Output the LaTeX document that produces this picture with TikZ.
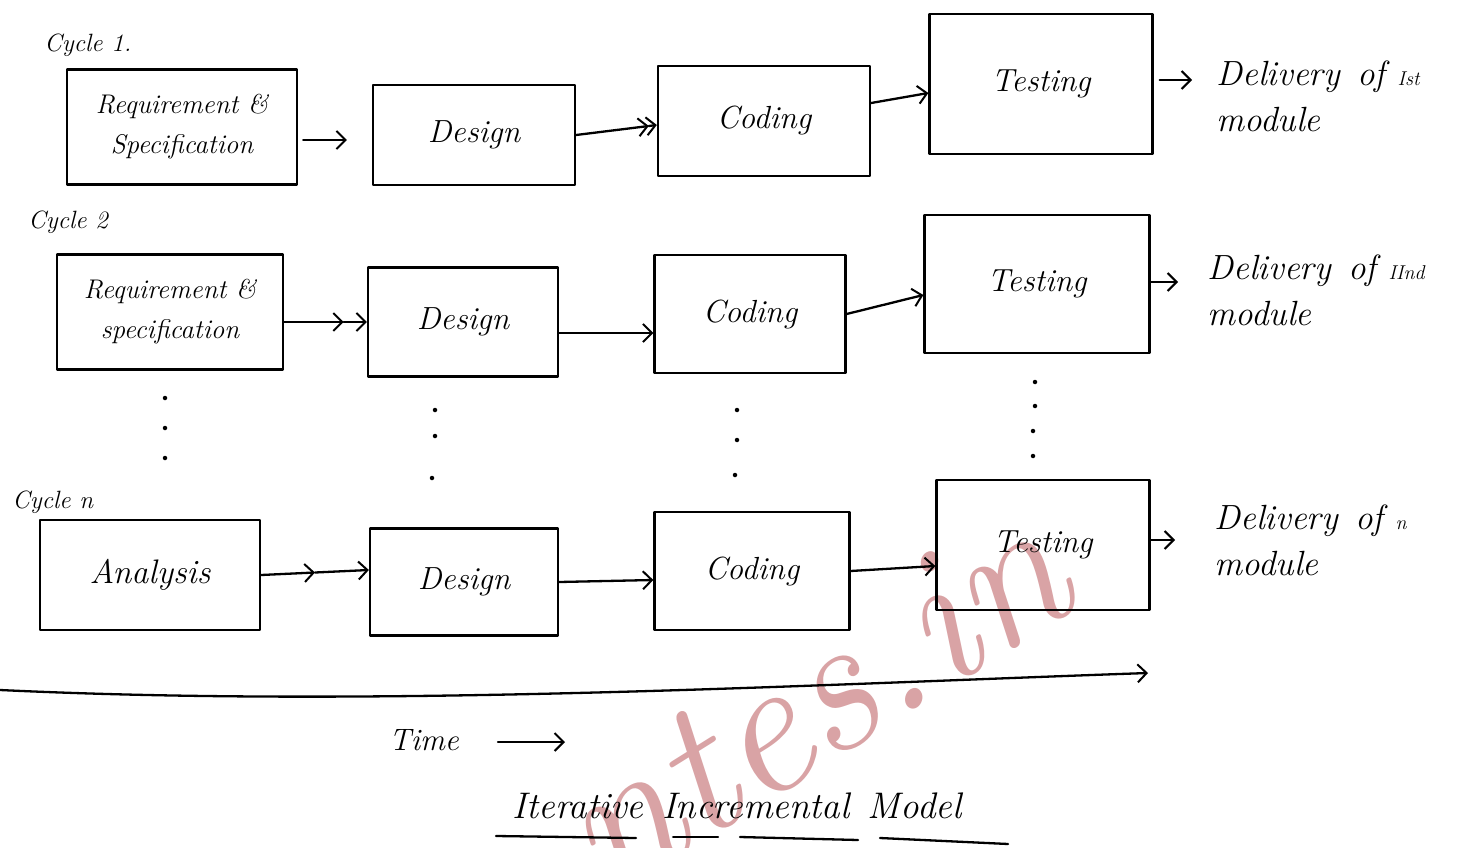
\documentclass[tikz,border=0pt]{standalone}
\usepackage{fontspec}
\usetikzlibrary{arrows.meta,calc}
\definecolor{wmred}{HTML}{D9A3A5}
\begin{document}
\begin{tikzpicture}[x=1pt,y=-1pt, line width=2.3pt, line join=round, line cap=round,
  box/.style={draw, rectangle, inner sep=0pt, align=center, font=\fontsize{32}{36}\selectfont\itshape},
  smallbox/.style={box, font=\fontsize{27}{40}\selectfont\itshape},
  arr/.style={-{Straight Barb[length=9pt,width=18pt,line width=2pt]}},
  cyc/.style={anchor=west, font=\fontsize{25}{28}\selectfont\itshape},
  deliv/.style={anchor=north west, align=left, font=\fontsize{35}{46}\selectfont\itshape},
  dot/.style={circle, fill, inner sep=0pt, minimum size=4.5pt}]
\useasboundingbox (0,0) rectangle (1464,848);

% watermark
\begin{scope}
\clip (0,0) rectangle (1464,848);
\node[rotate=32, text=wmred, font=\fontsize{195}{195}\selectfont\itshape] (wm) at (812,700) {ntes.in};
\end{scope}

% cycle labels
\node[cyc] (c1) at (40,45) {Cycle 1.};
\node[cyc] (c2) at (24,222) {Cycle 2};
\node[cyc] (c3) at (8,502) {Cycle n};

% row 1
\node[smallbox, minimum width=230, minimum height=115] (r1a) at (182,127) {Requirement \&\\Specification};
\node[box, minimum width=202, minimum height=100] (r1b) at (474,135) {Design};
\node[box, minimum width=212, minimum height=110] (r1c) at (764,121) {Coding};
\node[box, minimum width=223, minimum height=140] (r1d) at (1041,84) {Testing};
\node[deliv] (d1) at (1212,56) {Delivery\enspace of {\fontsize{20}{22}\selectfont Ist}\\module};

\draw[arr] ([yshift=-13]r1a.east) ++(5,0) coordinate (p1) -- ([yshift=-5,xshift=-25]r1b.west);
\draw[arr] (r1b.east) -- ($(r1b.east)!0.9!([yshift=-4]r1c.west)$) coordinate (m1);
\draw[arr] (m1) -- ([yshift=-4]r1c.west);
\draw[arr] ([yshift=18]r1c.east) -- ([yshift=-9]r1d.west);
\draw[arr] ([xshift=6,yshift=4]r1d.east) -- ([xshift=-20,yshift=4]r1d.east -| d1.west);

% row 2
\node[smallbox, minimum width=226, minimum height=115] (r2a) at (170,312) {Requirement \&\\specification};
\node[box, minimum width=190, minimum height=109] (r2b) at (463,322) {Design};
\node[box, minimum width=191, minimum height=118] (r2c) at (750,314) {Coding};
\node[box, minimum width=225, minimum height=138] (r2d) at (1037,284) {Testing};
\node[deliv] (d2) at (1203,250) {Delivery\enspace of {\fontsize{20}{22}\selectfont IInd}\\module};

\draw[arr] ([yshift=-10]r2a.east) -- ($([yshift=-10]r2a.east)!0.72!(r2b.west)$) coordinate (m2);
\draw[arr] (m2) -- (r2b.west);
\draw[arr] ([yshift=-11]r2b.east) -- ([yshift=-19]r2c.west);
\draw[arr] (r2c.east) -- ([yshift=-11]r2d.west);
\draw[arr] ([yshift=2]r2d.east) -- ([xshift=-25,yshift=2]r2d.east -| d2.west);

% row n
\node[box, minimum width=220, minimum height=110, font=\fontsize{34}{38}\selectfont\itshape] (r3a) at (150,575) {Analysis};
\node[box, minimum width=188, minimum height=107] (r3b) at (464,582) {Design};
\node[box, minimum width=195, minimum height=118] (r3c) at (752,571) {Coding};
\node[box, minimum width=213, minimum height=130] (r3d) at (1043,545) {Testing};
\node[deliv] (d3) at (1210,500) {Delivery\enspace of {\fontsize{20}{22}\selectfont n}\\module};

\draw[arr] (r3a.east) -- ($(r3a.east)!0.5!([yshift=12]r3b.west)$) coordinate (m3);
\draw[arr] (m3) -- ([yshift=12]r3b.west);
\draw[arr] (r3b.east) -- ([yshift=-9]r3c.west);
\draw[arr] (r3c.east) -- ([yshift=-21]r3d.west);
\draw[arr] ([yshift=5]r3d.east) -- ([xshift=-35,yshift=5]r3d.east -| d3.west);

% continuation dots
\foreach \x/\y [count=\i] in {165/398,165/428,165/458,435/410,435/436,432/478,737/410,737/440,735/475,1035/382,1035/406,1033/431,1033/456}
  \node[dot] (dt\i) at (\x,\y) {};

% time axis
\coordinate (t0) at (0,690);
\coordinate (t1) at (1148,673);
\draw[arr] (t0) .. controls (380,708) and (800,685) .. (t1);
\node[font=\fontsize{31}{34}\selectfont\itshape] (time) at (424,740) {Time};
\coordinate (ta) at (498,742);
\coordinate (tb) at (565,742);
\draw[arr] (ta) -- (tb);

% title
\node[font=\fontsize{37}{40}\selectfont\itshape] (title) at (737,806) {Iterative\enspace Incremental\enspace Model};
\draw ([xshift=-12,yshift=-30]title.west) -- ++(140,2);
\draw ([xshift=165,yshift=-31]title.west) -- ++(45,0);
\draw ([xshift=232,yshift=-31]title.west) -- ++(118,3);
\draw ([xshift=372,yshift=-32]title.west) -- ++(128,6);
\end{tikzpicture}
\end{document}
